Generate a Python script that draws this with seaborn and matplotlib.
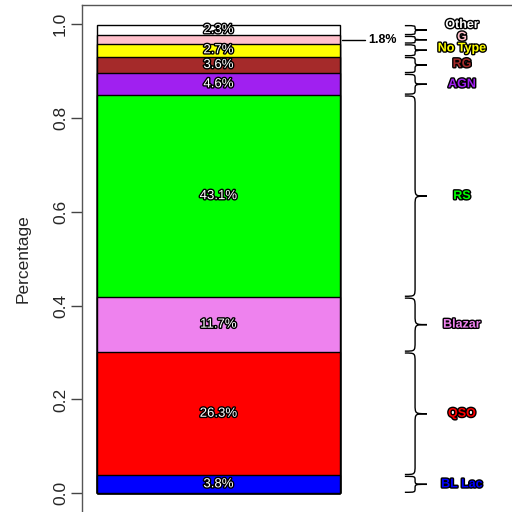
import numpy as np
import pandas as pd
import seaborn as sns
import matplotlib.pyplot as plt
import matplotlib.patheffects as pe
from matplotlib.path import Path
from matplotlib.patches import PathPatch

# segment values, bottom to top (percent)
categories = ["BL Lac", "QSO", "Blazar", "RS", "AGN", "RG", "No Type", "G", "Other"]
percents = [3.8, 26.3, 11.7, 43.1, 4.6, 3.6, 2.7, 1.8, 2.3]
colors = ["#0000FF", "#FF0000", "#EE82EE", "#00FF00", "#A020F0",
          "#A52A2A", "#FFFF00", "#FFC0CB", "#FFFFFF"]

# small vertical nudges for the crowded labels on the right
label_nudge = [0, 0, 0, 0, 0, 0.002, 0.004, 0.005, 0.011]

sns.set_theme(style="white")
plt.rcParams['font.family'] = ['Liberation Sans', 'DejaVu Sans']

df = pd.DataFrame({"cat": categories, "pct": percents, "color": colors})
df["frac"] = df["pct"] / 100
df["top"] = df["frac"].cumsum()
df["bottom"] = df["top"] - df["frac"]
df["mid"] = (df["top"] + df["bottom"]) / 2

fig = plt.figure(figsize=(5.12, 5.12), dpi=100)
ax = fig.add_axes([82 / 512, 0.0, 430 / 512, 507 / 512])

# stacked bar: draw tallest cumulative first, overlay shorter ones
for i in reversed(range(len(df))):
    sns.barplot(x=["all"], y=[df["top"][i]], color=df["color"][i], saturation=1,
                edgecolor="black", linewidth=1, width=1, ax=ax)

ax.set_xlim(-0.562, 1.208)
ax.set_ylim(-0.04, 1.041)
ax.set_xticks([])
ax.set_xlabel("")
ax.set_yticks([0, 0.2, 0.4, 0.6, 0.8, 1.0])
ax.set_yticklabels(["0.0", "0.2", "0.4", "0.6", "0.8", "1.0"], rotation=90, va="center", fontsize=12.5)
ax.tick_params(axis="y", left=True, length=8, width=1, color="#444444", pad=2)
ax.set_ylabel("Percentage", fontsize=12.5, labelpad=16)
for side in ["bottom", "right"]:
    ax.spines[side].set_visible(False)
for side in ["top", "left"]:
    ax.spines[side].set_color("#555555")
    ax.spines[side].set_linewidth(1)

halo = [pe.withStroke(linewidth=2, foreground="black")]

# percent labels
for i, r in df.iterrows():
    if r["pct"] >= 2:
        ax.text(0, r["mid"], f"{r['pct']:.1f}%", ha="center", va="center",
                fontsize=9.5, color="white", path_effects=halo)
    else:
        ax.plot([0.508, 0.603], [r["mid"], r["mid"]], color="black", lw=1, clip_on=False)
        ax.text(0.615, r["mid"], f"{r['pct']:.1f}%", ha="left", va="center",
                fontsize=9, fontweight="bold", color="black")


def brace(y0, y1, x_end=0.767, x_body=0.809, x_tip=0.858):
    ym = (y0 + y1) / 2
    rr = min(0.02, (y1 - y0) / 4)
    verts = [(x_end, y0),
             (x_body, y0), (x_body, y0), (x_body, y0 + rr),
             (x_body, ym - rr),
             (x_body, ym), (x_body, ym), (x_tip, ym),
             (x_body, ym), (x_body, ym), (x_body, ym + rr),
             (x_body, y1 - rr),
             (x_body, y1), (x_body, y1), (x_end, y1)]
    codes = [Path.MOVETO,
             Path.CURVE4, Path.CURVE4, Path.CURVE4,
             Path.LINETO,
             Path.CURVE4, Path.CURVE4, Path.CURVE4,
             Path.CURVE4, Path.CURVE4, Path.CURVE4,
             Path.LINETO,
             Path.CURVE4, Path.CURVE4, Path.CURVE4]
    return PathPatch(Path(verts, codes), fill=False, lw=1, edgecolor="black", clip_on=False)


for i, r in df.iterrows():
    ax.add_patch(brace(r["bottom"] + 0.002, r["top"] - 0.002))
    ax.text(1.002, r["mid"] + label_nudge[i], r["cat"], ha="center", va="center",
            fontsize=9, fontweight="bold", color=r["color"], path_effects=halo)

fig.savefig("out.png", dpi=100)
